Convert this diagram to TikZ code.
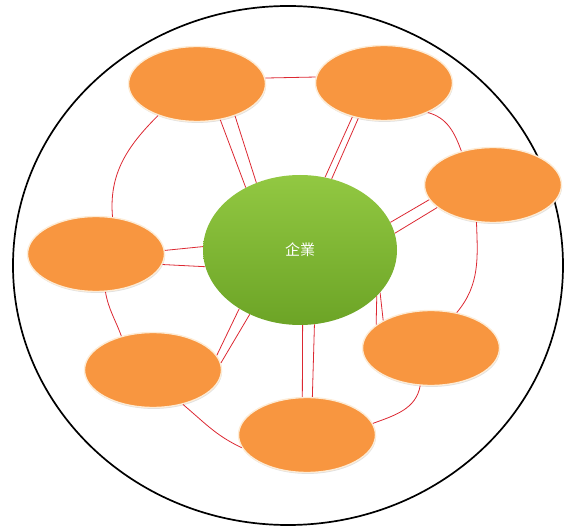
\documentclass[tikz,border=0pt]{standalone}
\usepackage{fontspec}
\newfontfamily\cjk{Noto Sans CJK TC}
\usetikzlibrary{shapes.geometric,shadows}
\definecolor{juhuang}{RGB}{248,150,64}
\definecolor{mibai}{RGB}{253,236,214}
\definecolor{qianlv}{RGB}{146,200,66}
\definecolor{shenlv}{RGB}{108,164,38}
\definecolor{hongxian}{RGB}{220,40,50}
\begin{document}
\begin{tikzpicture}[x=1pt, y=-1pt,
    sat/.style={ellipse, fill=juhuang, draw=mibai, line width=1.4pt,
                minimum width=137pt, minimum height=75pt, inner sep=0pt,
                drop shadow={shadow xshift=0.6pt, shadow yshift=-1.4pt, opacity=0.25}},
    hub/.style={ellipse, top color=qianlv, bottom color=shenlv,
                minimum width=194pt, minimum height=150pt, inner sep=0pt,
                text=white, font=\cjk\fontsize{15}{18}\selectfont},
    link/.style={hongxian, line width=0.8pt}]
  \useasboundingbox (0,0) rectangle (568,529);
  % 外圈
  \draw[line width=1.7pt] (288,265.5) ellipse [x radius=275, y radius=259.5];
  % 中心
  \node[hub] (qiye) at (300,250) {企業};
  % 周围节点
  \node[sat] (tl) at (197,84)  {};
  \node[sat] (tr) at (384,83)  {};
  \node[sat] (r)  at (493,185) {};
  \node[sat] (lr) at (431,348) {};
  \node[sat] (b)  at (307,435) {};
  \node[sat] (ll) at (153,370) {};
  \node[sat] (l)  at (96,254)  {};
  % 与中心的双线
  \draw[link] (tl.-57) -- (qiye.131);
  \draw[link] (tl.-40) -- (qiye.123);
  \draw[link] (tr.227) -- (qiye.71);
  \draw[link] (tr.234) -- (qiye.66);
  \draw[link] (r.193)  -- (qiye.17);
  \draw[link] (r.202)  -- (qiye.10);
  \draw[link] (qiye.-31) -- (lr.157);
  \draw[link] (qiye.-28) -- (lr.150);
  \draw[link] (qiye.-88) -- (b.97);
  \draw[link] (qiye.-79) -- (b.82);
  \draw[link] (ll.13) -- (qiye.224);
  \draw[link] (ll.6)  -- (qiye.232);
  \draw[link] (l.3)   -- (qiye.178);
  \draw[link] (l.-9)  -- (qiye.190);
  % 外围相邻连线
  \draw[link] (tl.5) -- (tr.175);
  \draw[link] (tr.-34) to[out=-15, in=110] (r.133);
  \draw[link] (r.246) to[out=-88, in=50] (lr.54);
  \draw[link] (lr.-106) to[out=-100, in=20] (b.10);
  \draw[link] (b.191) to[out=155, in=-40] (ll.-49);
  \draw[link] (ll.133) to[out=110, in=-80] (l.-76);
  \draw[link] (l.66) to[out=95, in=225] (tl.219);
\end{tikzpicture}
\end{document}
